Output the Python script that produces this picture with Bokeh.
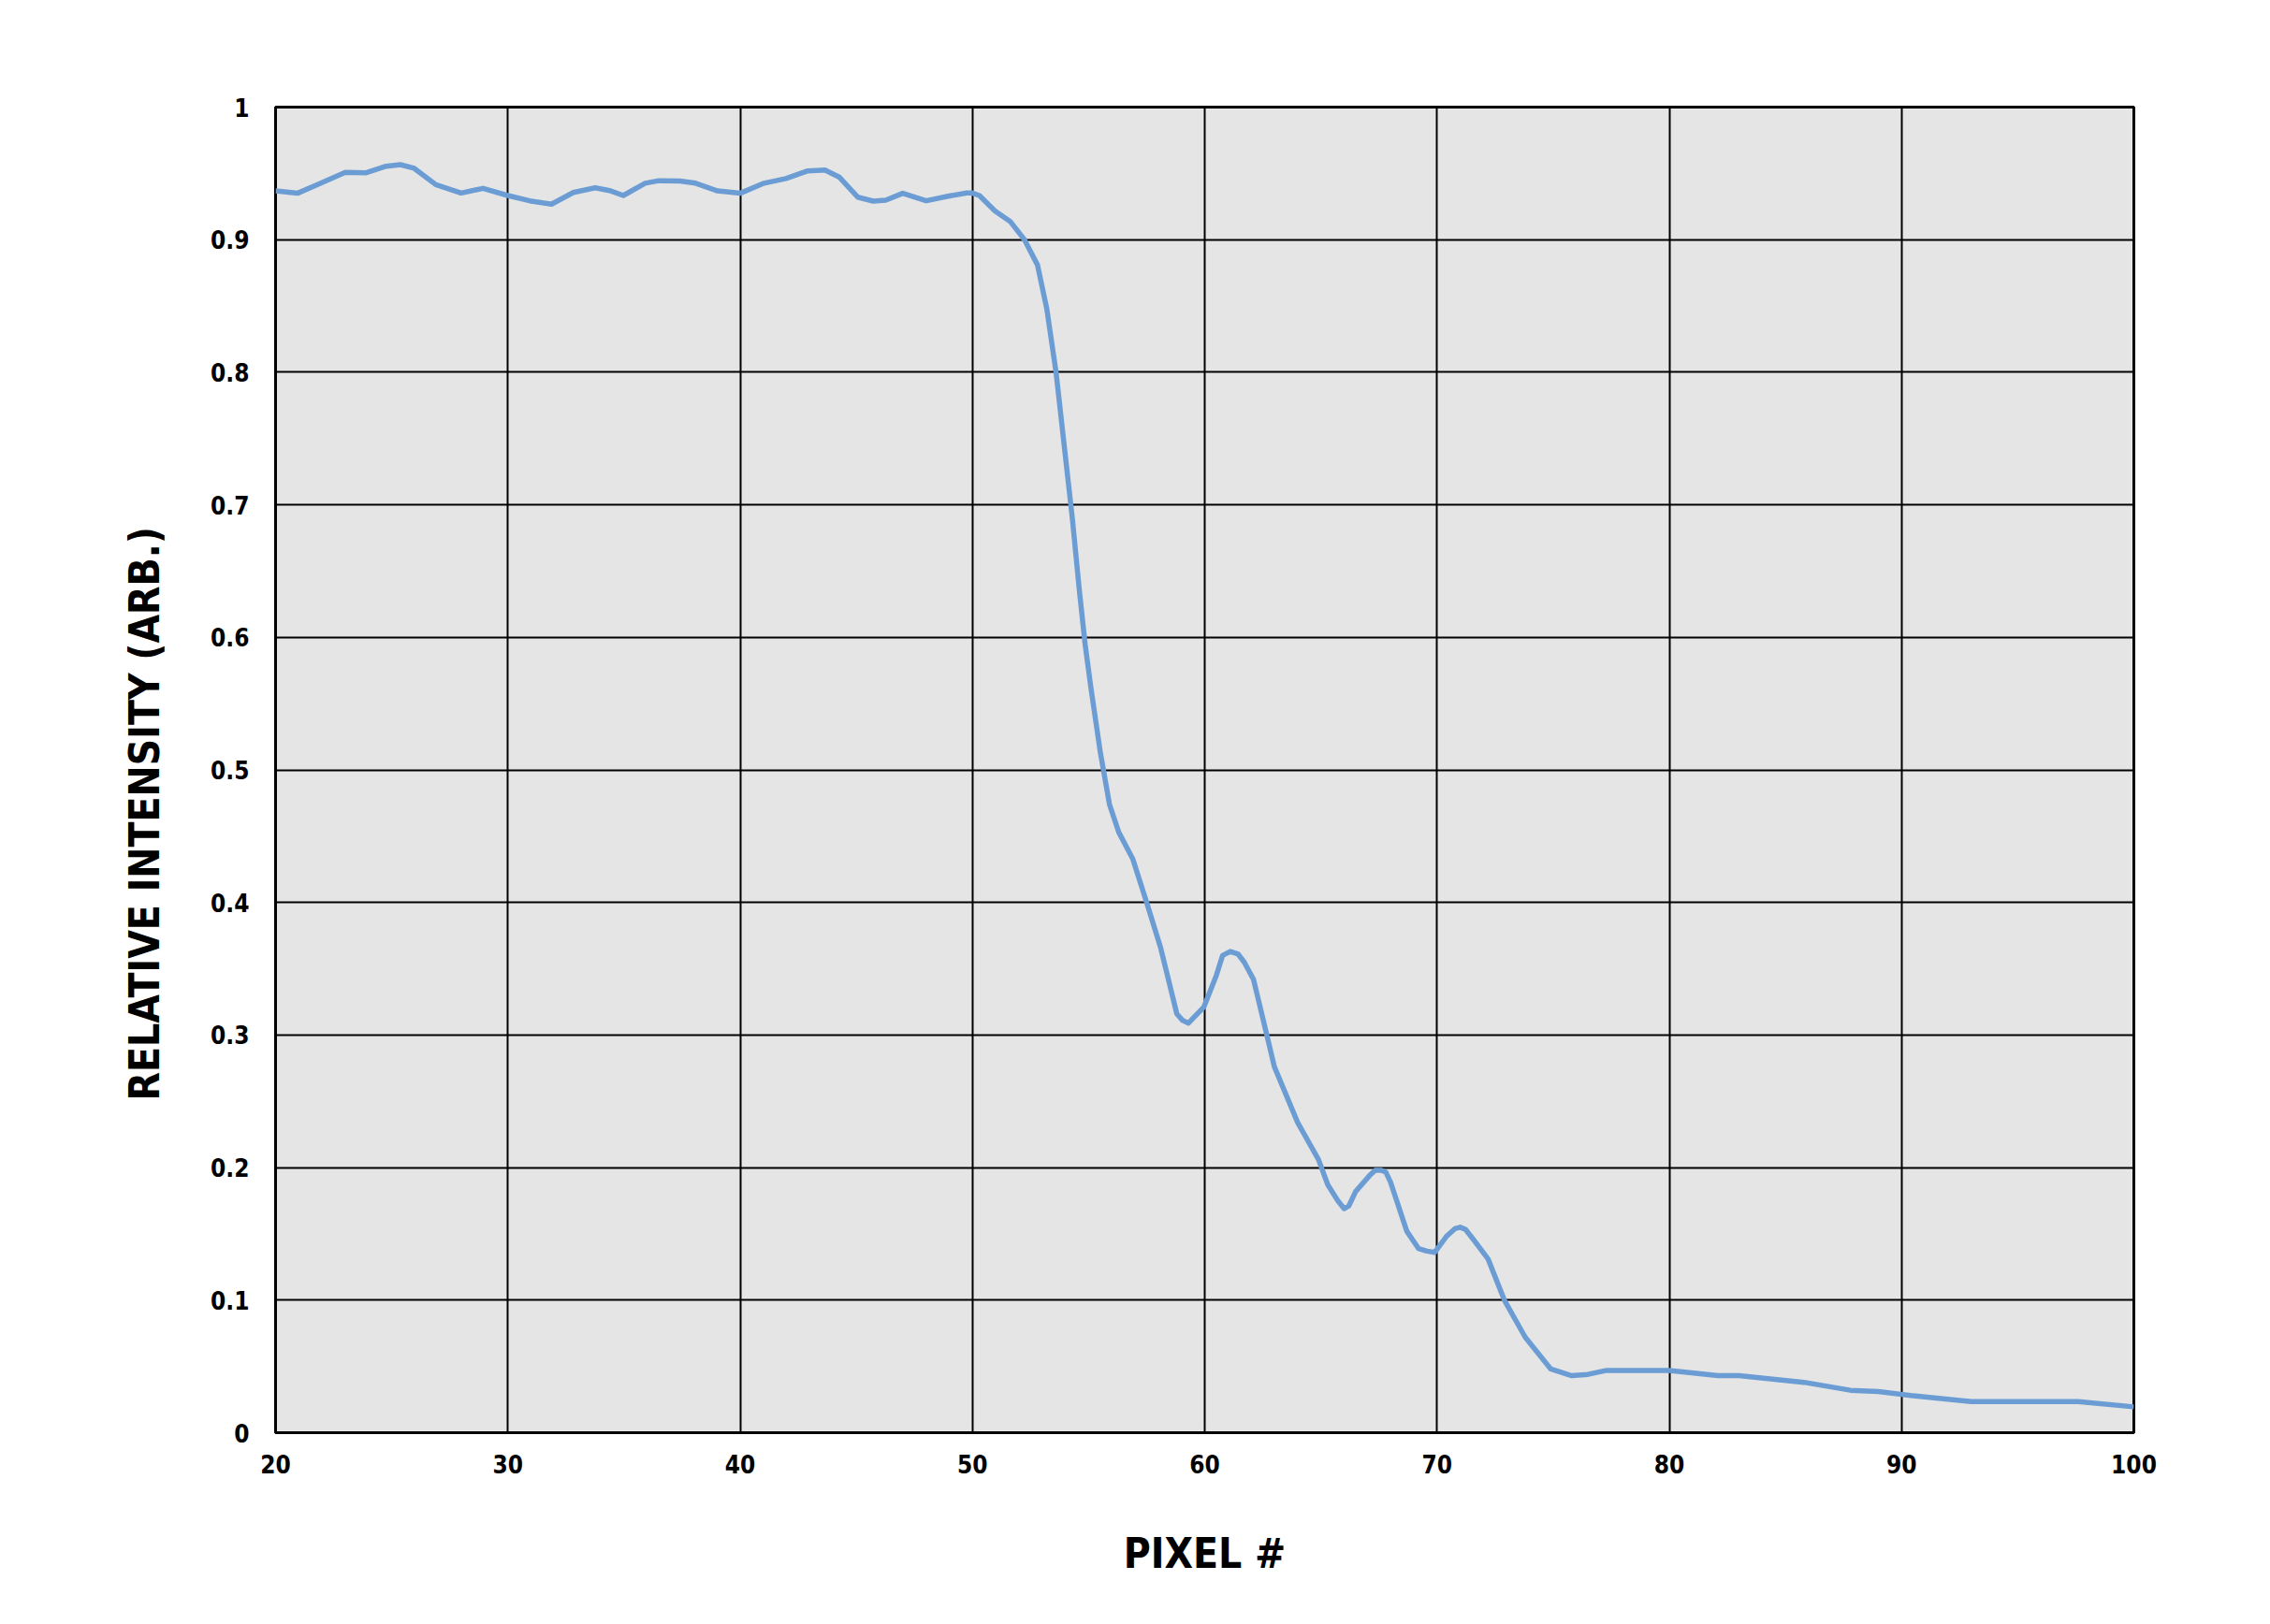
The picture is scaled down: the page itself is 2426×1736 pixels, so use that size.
from bokeh.plotting import figure
from bokeh.models import FixedTicker, CustomJSTickFormatter, Title
from bokeh.embed import file_html
from bokeh.resources import INLINE

pixel = [20, 20.94, 21.95, 23.0, 23.9, 24.76, 25.37, 25.97, 26.9, 27.99, 28.93, 30.0, 30.94,
         31.88, 32.82, 33.76, 34.43, 34.97, 35.91, 36.5, 37.41, 38.08, 39.02, 40.0, 41.03, 41.97,
         42.91, 43.65, 44.26, 45.06, 45.73, 46.27, 47.0, 48.01, 48.95, 49.76, 50.0, 50.3, 50.97,
         51.64, 52.24, 52.8, 53.2, 53.6, 54.0, 54.3, 54.6, 54.85, 55.1, 55.5, 55.9, 56.3, 56.9,
         57.5, 58.1, 58.8, 59.05, 59.3, 59.96, 60.5, 60.77, 61.1, 61.44, 61.7, 62.1, 62.7, 63.0,
         64.0, 64.9, 65.3, 65.73, 66.0, 66.2, 66.5, 67.1, 67.34, 67.6, 67.8, 68.0, 68.7, 69.2,
         69.56, 69.9, 70.4, 70.77, 71.0, 71.23, 71.6, 72.2, 72.9, 73.8, 74.9, 75.8, 76.5, 77.3,
         80, 82.1, 83, 85.8, 87.8, 89, 90.4, 93, 97.6, 100]
intensity = [0.9368, 0.935, 0.9426, 0.9508, 0.9505, 0.9554, 0.9566, 0.9538, 0.9415, 0.9352,
             0.9387, 0.9333, 0.9293, 0.9268, 0.9356, 0.9391, 0.9368, 0.9333, 0.9426, 0.9445,
             0.9443, 0.9426, 0.9368, 0.935, 0.9426, 0.9461, 0.9519, 0.9526, 0.9473, 0.9321,
             0.9291, 0.9298, 0.935, 0.9293, 0.9328, 0.9352, 0.9352, 0.9333, 0.9217, 0.9135,
             0.900, 0.881, 0.848, 0.800, 0.737, 0.690, 0.636, 0.595, 0.562, 0.514, 0.474, 0.453,
             0.433, 0.400, 0.366, 0.316, 0.311, 0.309, 0.321, 0.345, 0.360, 0.363, 0.361, 0.355,
             0.342, 0.298, 0.276, 0.234, 0.206, 0.187, 0.175, 0.169, 0.171, 0.182, 0.194, 0.198,
             0.198, 0.1965, 0.189, 0.152, 0.139, 0.137, 0.136, 0.148, 0.1539, 0.155, 0.1533,
             0.145, 0.131, 0.100, 0.072, 0.048, 0.043, 0.044, 0.047, 0.047, 0.043, 0.043, 0.038,
             0.032, 0.031, 0.028, 0.0235, 0.0235, 0.0195]

x_ticks = [20, 30, 40, 50, 60, 70, 80, 90, 100]
y_ticks = [0, 0.1, 0.2, 0.3, 0.4, 0.5, 0.6, 0.7, 0.8, 0.9, 1]
x_title = "PIXEL #"
y_title = "RELATIVE INTENSITY (ARB.)"

FONT = "DejaVu Sans Condensed"

p = figure(width=2410, height=1720, x_range=(20, 100), y_range=(0, 1),
           output_backend="svg", toolbar_location=None,
           min_border_left=294, min_border_right=130, min_border_top=114,
           min_border_bottom=189)

p.background_fill_color = "#e5e5e5"
p.border_fill_color = "white"
p.outline_line_color = "black"
p.outline_line_width = 3

p.line(pixel, intensity, line_color="#6b9dd4", line_width=5.5, line_join="round")

p.xaxis.ticker = FixedTicker(ticks=x_ticks)
p.yaxis.ticker = FixedTicker(ticks=y_ticks)
p.yaxis.formatter = CustomJSTickFormatter(code="return tick.toFixed(1).replace(/\\.0$/, '');")

for ax in (p.xaxis, p.yaxis):
    ax.axis_line_color = None
    ax.major_tick_line_color = None
    ax.minor_tick_line_color = None
    ax.major_label_text_font = FONT
    ax.major_label_text_font_style = "bold"
    ax.major_label_text_font_size = "26px"
    ax.major_label_text_color = "black"

p.xaxis.major_label_standoff = 17
p.yaxis.major_label_standoff = 22

p.xaxis.axis_label = x_title
p.xaxis.axis_label_text_font = FONT
p.xaxis.axis_label_text_font_style = "bold"
p.xaxis.axis_label_text_font_size = "44px"
p.xaxis.axis_label_text_color = "black"
p.xaxis.axis_label_standoff = 57

ytitle = Title(text=y_title, align="left", offset=355, standoff=85,
               text_font=FONT, text_font_style="bold",
               text_font_size="44px", text_color="black")
p.add_layout(ytitle, "left")

p.xgrid.grid_line_color = "black"
p.xgrid.grid_line_width = 2
p.ygrid.grid_line_color = "black"
p.ygrid.grid_line_width = 2

open("out.html", "w").write(file_html(p, INLINE))
